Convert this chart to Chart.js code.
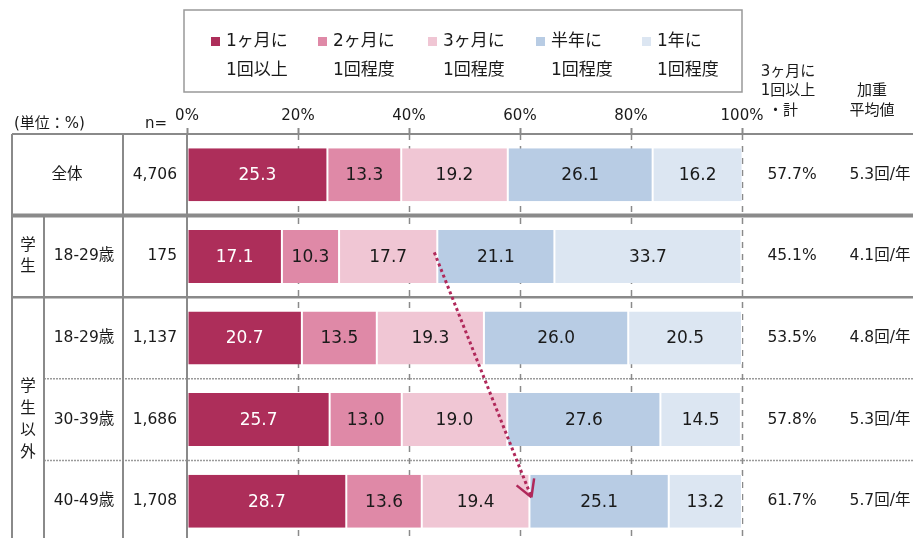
<!DOCTYPE html>
<html lang="ja">
<head>
<meta charset="utf-8">
<title>頻度</title>
<script src="https://cdn.jsdelivr.net/npm/chart.js@4.4.1/dist/chart.umd.min.js"></script>
<style>
  html, body { margin: 0; padding: 0; background: #fff; overflow: hidden; }
  canvas { display: block; }
</style>
</head>
<body>
<canvas id="freqChart" width="913" height="542"></canvas>
<script>
// データ
const rowLabels = ['全体', '18-29歳', '18-29歳', '30-39歳', '40-49歳'];
const nValues = ['4,706', '175', '1,137', '1,686', '1,708'];
const seriesNames = [
  ['1ヶ月に', '1回以上'],
  ['2ヶ月に', '1回程度'],
  ['3ヶ月に', '1回程度'],
  ['半年に', '1回程度'],
  ['1年に', '1回程度']
];
const perMonth = [25.3, 17.1, 20.7, 25.7, 28.7];
const per2Months = [13.3, 10.3, 13.5, 13.0, 13.6];
const per3Months = [19.2, 17.7, 19.3, 19.0, 19.4];
const perHalfYear = [26.1, 21.1, 26.0, 27.6, 25.1];
const perYear = [16.2, 33.7, 20.5, 14.5, 13.2];
const within3Months = ['57.7%', '45.1%', '53.5%', '57.8%', '61.7%'];
const weightedAvg = ['5.3回/年', '4.1回/年', '4.8回/年', '5.3回/年', '5.7回/年'];
const xTicks = [0, 20, 40, 60, 80, 100];

const colors = ['#ad2e5a', '#df89a7', '#f0c6d4', '#b8cce4', '#dce6f2'];
const FONT = '"DejaVu Sans", "Noto Sans CJK JP", sans-serif';
const LINE = '#8a8a8a';

// 点線の目盛り線（棒の下）
const gridPlugin = {
  id: 'gridPlugin',
  beforeDatasetsDraw(chart) {
    const ctx = chart.ctx;
    const x = chart.scales.x;
    ctx.save();
    ctx.strokeStyle = LINE;
    ctx.lineWidth = 1.5;
    ctx.setLineDash([6, 6]);
    xTicks.slice(1).forEach(v => {
      const px = Math.round(x.getPixelForValue(v)) + 0.5;
      ctx.beginPath();
      ctx.moveTo(px, chart.chartArea.top);
      ctx.lineTo(px, chart.height);
      ctx.stroke();
    });
    ctx.restore();
  }
};

// 表・凡例・ラベルを描くプラグイン
const tablePlugin = {
  id: 'tablePlugin',
  afterDraw(chart) {
    const ctx = chart.ctx;
    const x = chart.scales.x;
    const y = chart.scales.y;
    const top = chart.chartArea.top;
    const bottom = chart.height;
    const W = chart.width;
    const rowY = rowLabels.map((_, i) => y.getPixelForValue(i));
    const edge = i => (rowY[i] + rowY[i + 1]) / 2;

    ctx.save();
    ctx.strokeStyle = LINE;

    // 横線
    const hline = (yy, x0, w, dash) => {
      ctx.beginPath();
      ctx.lineWidth = w;
      ctx.setLineDash(dash || []);
      ctx.moveTo(x0, yy);
      ctx.lineTo(W, yy);
      ctx.stroke();
    };
    hline(top, 12, 2);
    hline(edge(0), 12, 4);
    hline(edge(1), 12, 2.5);
    ctx.strokeStyle = '#9a9a9a';
    hline(edge(2), 44, 1.5, [2, 1]);
    hline(edge(3), 44, 1.5, [2, 1]);
    ctx.strokeStyle = LINE;

    // 縦線
    const vline = (xx, y0) => {
      ctx.beginPath();
      ctx.lineWidth = 2;
      ctx.setLineDash([]);
      ctx.moveTo(xx, y0);
      ctx.lineTo(xx, bottom);
      ctx.stroke();
    };
    vline(12, top);
    vline(44, edge(0));
    vline(123, top);
    vline(x.getPixelForValue(0), top);

    // 表のテキスト
    ctx.fillStyle = '#1a1a1a';
    ctx.textBaseline = 'middle';
    ctx.font = '15.5px ' + FONT;
    ctx.textAlign = 'center';
    ctx.fillText(rowLabels[0], 67, rowY[0]);
    for (let i = 1; i < rowLabels.length; i++) {
      ctx.fillText(rowLabels[i], 84, rowY[i]);
    }
    ['学', '生'].forEach((c, k) => ctx.fillText(c, 28, rowY[1] - 10 + k * 21));
    const midY = (edge(1) + bottom) / 2;
    ['学', '生', '以', '外'].forEach((c, k) => ctx.fillText(c, 28, midY - 33 + k * 22));

    ctx.textAlign = 'right';
    nValues.forEach((v, i) => ctx.fillText(v, 177, rowY[i]));
    ctx.textAlign = 'center';
    within3Months.forEach((v, i) => ctx.fillText(v, 792, rowY[i]));
    weightedAvg.forEach((v, i) => ctx.fillText(v, 880, rowY[i]));

    // 見出し
    ctx.font = '15px ' + FONT;
    ctx.textAlign = 'left';
    ctx.fillText('(単位：%)', 14, 124);
    ctx.fillText('n=', 145, 124);
    ctx.textAlign = 'center';
    ctx.fillText('3ヶ月に', 788, 72);
    ctx.fillText('1回以上', 788, 91);
    ctx.fillText('・計', 783, 111);
    ctx.fillText('加重', 872, 91);
    ctx.fillText('平均値', 872, 111);

    // 凡例
    ctx.lineWidth = 1.5;
    ctx.strokeStyle = '#999';
    ctx.strokeRect(184, 10, 558, 82);
    const legendX = [211, 318, 428, 536, 642];
    ctx.font = '17px ' + FONT;
    ctx.textAlign = 'left';
    seriesNames.forEach((name, i) => {
      ctx.fillStyle = colors[i];
      ctx.fillRect(legendX[i], 37, 9, 9);
      ctx.fillStyle = '#1a1a1a';
      ctx.fillText(name[0], legendX[i] + 15, 42);
      ctx.fillText(name[1], legendX[i] + 15, 71);
    });

    // 矢印 (学生18-29歳の3ヶ月以内 → 40-49歳)
    const startSum = perMonth[1] + per2Months[1] + per3Months[1];
    const endSum = perMonth[4] + per2Months[4] + per3Months[4];
    const x0 = x.getPixelForValue(startSum) - 3, y0 = rowY[1] - 4;
    const x1 = x.getPixelForValue(endSum) + 2, y1 = rowY[4] - 4;
    ctx.strokeStyle = '#b0285a';
    ctx.lineWidth = 3;
    ctx.setLineDash([3, 3]);
    ctx.beginPath();
    ctx.moveTo(x0, y0);
    ctx.lineTo(x1, y1);
    ctx.stroke();
    ctx.setLineDash([]);
    ctx.lineWidth = 2.5;
    const ang = Math.atan2(y0 - y1, x0 - x1);
    ctx.beginPath();
    [-0.52, 0.52].forEach(d => {
      ctx.moveTo(x1, y1);
      ctx.lineTo(x1 + 19 * Math.cos(ang + d), y1 + 19 * Math.sin(ang + d));
    });
    ctx.stroke();
    ctx.restore();
  }
};

// 棒の中の数値
const valuePlugin = {
  id: 'valuePlugin',
  afterDatasetsDraw(chart) {
    const ctx = chart.ctx;
    ctx.save();
    ctx.font = '17px ' + FONT;
    ctx.textAlign = 'center';
    ctx.textBaseline = 'middle';
    chart.data.datasets.forEach((ds, di) => {
      chart.getDatasetMeta(di).data.forEach((bar, i) => {
        ctx.fillStyle = di === 0 ? '#fff' : '#1a1a1a';
        ctx.fillText(ds.data[i].toFixed(1), (bar.x + bar.base) / 2, bar.y + 1);
      });
    });
    ctx.restore();
  }
};

const series = [perMonth, per2Months, per3Months, perHalfYear, perYear];

new Chart(document.getElementById('freqChart'), {
  type: 'bar',
  data: {
    labels: rowLabels,
    datasets: series.map((d, i) => ({
      label: seriesNames[i].join(''),
      data: d,
      backgroundColor: colors[i],
      borderColor: '#fff',
      borderWidth: { left: 1, right: 1, top: 0, bottom: 0 },
      borderSkipped: false,
      categoryPercentage: 1,
      barPercentage: 0.65
    }))
  },
  options: {
    indexAxis: 'y',
    responsive: false,
    animation: false,
    layout: { padding: { left: 187, right: 171, top: 100, bottom: 0 } },
    scales: {
      x: {
        position: 'top',
        stacked: true,
        min: 0,
        max: 100,
        afterFit: s => { s.height = 34; },
        afterBuildTicks: s => { s.ticks = xTicks.map(v => ({ value: v })); },
        ticks: {
          callback: v => v + '%',
          font: { family: FONT, size: 15 },
          color: '#1a1a1a',
          padding: 3,
          maxRotation: 0
        },
        grid: {
          drawOnChartArea: false,
          tickColor: LINE,
          tickLength: 6,
          tickWidth: 2
        },
        border: { display: false }
      },
      y: {
        stacked: true,
        display: false
      }
    },
    plugins: {
      legend: { display: false },
      tooltip: { enabled: false }
    }
  },
  plugins: [gridPlugin, tablePlugin, valuePlugin]
});
</script>
</body>
</html>
